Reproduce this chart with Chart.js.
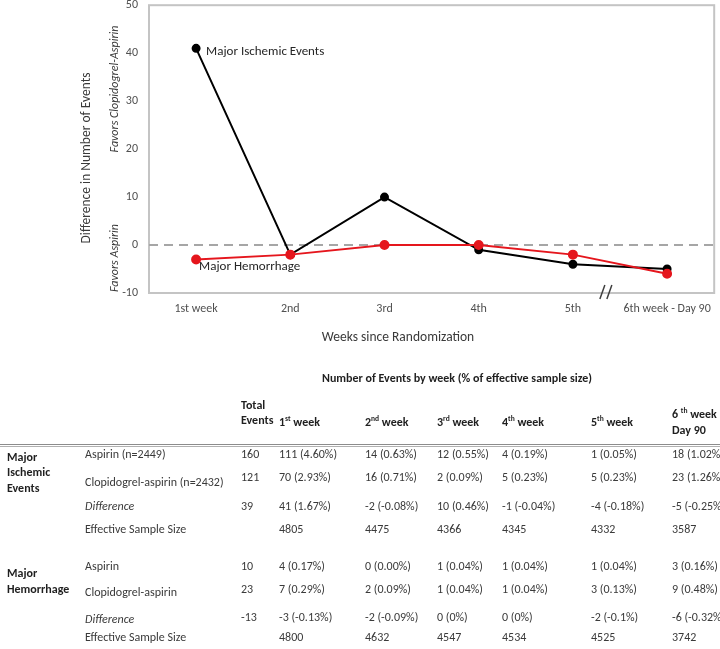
<!DOCTYPE html>
<html>
<head>
<meta charset="utf-8">
<script src="https://cdn.jsdelivr.net/npm/chart.js@4"></script>
<style>
  html,body{margin:0;padding:0;background:#fff;}
  body{width:720px;height:649px;overflow:hidden;position:relative;font-family:Carlito,Lato,"Open Sans",sans-serif;color:#3a3a3a;}
  #chartWrap{position:absolute;left:0;top:-13px;width:720px;height:363px;}
  #tbl{position:absolute;left:0;top:0;width:720px;height:649px;}
  .c{position:absolute;white-space:nowrap;font-size:12px;line-height:14px;}
  .b{font-weight:bold;color:#1f1f1f;}
  .i{font-style:italic;}
  sup{font-size:7.5px;vertical-align:top;line-height:8px;position:relative;top:0px;}
  .rule{position:absolute;left:0;width:720px;height:1px;background:#8c8c8c;}
</style>
</head>
<body>
<div id="chartWrap"><canvas id="c"></canvas></div>
<div id="tbl"></div>
<script>
// ---------------- data ----------------
const weekLabels = ["1st week", "2nd", "3rd", "4th", "5th", "6th week - Day 90"];
const ischemicDiff = [41, -2, 10, -1, -4, -5];
const hemorrhageDiff = [-3, -2, 0, 0, -2, -6];
const yTicks = [-10, 0, 10, 20, 30, 40, 50];

const tableTitle = "Number of Events by week (% of effective sample size)";
const weekNums = ["1", "2", "3", "4", "5", "6"];
const weekSuffix = ["st", "nd", "rd", "th", "th", "th"];
const rowLabels = ["Aspirin (n=2449)", "Clopidogrel-aspirin (n=2432)", "Difference", "Effective Sample Size",
                   "Aspirin", "Clopidogrel-aspirin", "Difference", "Effective Sample Size"];
const groupLabels = [["Major", "Ischemic", "Events"], ["Major", "Hemorrhage"]];
const totalEvents = ["160", "121", "39", "", "10", "23", "-13", ""];
const ischAspirin = ["111 (4.60%)", "14 (0.63%)", "12 (0.55%)", "4 (0.19%)", "1 (0.05%)", "18 (1.02%)"];
const ischClop = ["70 (2.93%)", "16 (0.71%)", "2 (0.09%)", "5 (0.23%)", "5 (0.23%)", "23 (1.26%)"];
const ischDiffText = ["41 (1.67%)", "-2 (-0.08%)", "10 (0.46%)", "-1 (-0.04%)", "-4 (-0.18%)", "-5 (-0.25%)"];
const ischESS = ["4805", "4475", "4366", "4345", "4332", "3587"];
const hemAspirin = ["4 (0.17%)", "0 (0.00%)", "1 (0.04%)", "1 (0.04%)", "1 (0.04%)", "3 (0.16%)"];
const hemClop = ["7 (0.29%)", "2 (0.09%)", "1 (0.04%)", "1 (0.04%)", "3 (0.13%)", "9 (0.48%)"];
const hemDiffText = ["-3 (-0.13%)", "-2 (-0.09%)", "0 (0%)", "0 (0%)", "-2 (-0.1%)", "-6 (-0.32%)"];
const hemESS = ["4800", "4632", "4547", "4534", "4525", "3742"];

// ---------------- chart ----------------
const FONT = "Carlito, Lato, 'Open Sans', sans-serif";
const annot = {
  id: 'annot',
  beforeDatasetsDraw(chart) {
    const {ctx, chartArea: a, scales: {y}} = chart;
    ctx.save();
    ctx.strokeStyle = '#c4c4c4';
    ctx.lineWidth = 2;
    ctx.strokeRect(a.left, a.top, a.right - a.left, a.bottom - a.top);
    const y0 = y.getPixelForValue(0);
    ctx.strokeStyle = '#a6a6a6';
    ctx.lineWidth = 2;
    ctx.setLineDash([9, 6]);
    ctx.beginPath();
    ctx.moveTo(a.left, y0);
    ctx.lineTo(a.right, y0);
    ctx.stroke();
    ctx.restore();
  },
  afterDraw(chart) {
    const {ctx, chartArea: a, scales: {x, y}} = chart;
    const off = 13; // canvas is shifted up by 13px in the page
    ctx.save();
    ctx.fillStyle = '#262626';
    ctx.font = "13px " + FONT;
    ctx.textBaseline = 'middle';
    ctx.textAlign = 'left';
    ctx.fillText("Major Ischemic Events", x.getPixelForValue(0) + 10, y.getPixelForValue(ischemicDiff[0]) + 3);
    ctx.fillText("Major Hemorrhage", x.getPixelForValue(0) + 3, y.getPixelForValue(hemorrhageDiff[0]) + 7);
    // axis break mark
    const bx = x.getPixelForValue(4) + (x.getPixelForValue(5) - x.getPixelForValue(4)) * 0.35;
    ctx.strokeStyle = '#404040';
    ctx.lineWidth = 1.5;
    ctx.beginPath();
    ctx.moveTo(bx - 6, a.bottom + 6); ctx.lineTo(bx - 1, a.bottom - 8);
    ctx.moveTo(bx + 1, a.bottom + 6); ctx.lineTo(bx + 6, a.bottom - 8);
    ctx.stroke();
    // x title
    ctx.fillStyle = '#3a3a3a';
    ctx.font = "13.5px " + FONT;
    ctx.textAlign = 'center';
    ctx.fillText("Weeks since Randomization", 398, 338 + off);
    // y titles
    ctx.translate(87, 158 + off);
    ctx.rotate(-Math.PI / 2);
    ctx.font = "13.5px " + FONT;
    ctx.fillText("Difference in Number of Events", 0, 0);
    ctx.restore();
    [["Favors Clopidogrel-Aspirin", 89], ["Favors Aspirin", 258]].forEach(([txt, cy]) => {
      ctx.save();
      ctx.fillStyle = '#3a3a3a';
      ctx.font = "italic 12px " + FONT;
      ctx.textAlign = 'center';
      ctx.textBaseline = 'middle';
      ctx.translate(115, cy + off);
      ctx.rotate(-Math.PI / 2);
      ctx.fillText(txt, 0, 0);
      ctx.restore();
    });
  }
};

new Chart(document.getElementById('c'), {
  type: 'line',
  data: {
    labels: weekLabels,
    datasets: [
      {label: 'Major Ischemic Events', data: ischemicDiff, borderColor: '#000', backgroundColor: '#000',
       borderWidth: 2, pointRadius: 3.5, pointHoverRadius: 3.5, tension: 0, order: 1},
      {label: 'Major Hemorrhage', data: hemorrhageDiff, borderColor: '#e5161d', backgroundColor: '#e5161d',
       borderWidth: 2, pointRadius: 4, pointHoverRadius: 4, tension: 0, order: 0}
    ]
  },
  options: {
    responsive: true,
    maintainAspectRatio: false,
    animation: false,
    events: [],
    layout: {autoPadding: false, padding: {left: 0, right: 3, top: 4, bottom: 0}},
    plugins: {legend: {display: false}, tooltip: {enabled: false}},
    scales: {
      x: {
        offset: true,
        grid: {display: false, drawTicks: false},
        border: {display: false},
        ticks: {color: '#505050', font: {family: FONT, size: 12}, padding: 9, maxRotation: 0, autoSkip: false},
        afterFit(s) { s.height = 57; }
      },
      y: {
        min: -10, max: 50,
        afterBuildTicks(s) { s.ticks = yTicks.map(v => ({value: v})); },
        grid: {display: false, drawTicks: false},
        border: {display: false},
        ticks: {color: '#505050', font: {family: FONT, size: 12}, padding: 11},
        afterFit(s) { s.width = 149; }
      }
    }
  },
  plugins: [annot]
});

// ---------------- table ----------------
const tbl = document.getElementById('tbl');
function cell(html, x, yc, cls) {
  const d = document.createElement('div');
  d.className = 'c' + (cls ? ' ' + cls : '');
  d.style.left = x + 'px';
  d.style.top = (yc - 7) + 'px';
  d.innerHTML = html;
  tbl.appendChild(d);
  return d;
}
cell(tableTitle, 322, 378, 'b');
const colX = [279, 365, 437, 502, 591, 672];
const totalX = 241;
const labelX = 85;
const groupX = 7;
cell("Total", totalX, 405, 'b');
cell("Events", totalX, 420, 'b');
for (let i = 0; i < 5; i++) {
  cell(weekNums[i] + "<sup>" + weekSuffix[i] + "</sup> week", colX[i], 422, 'b');
}
cell(weekNums[5] + " <sup>" + weekSuffix[5] + "</sup> week", colX[5], 414, 'b');
cell("Day 90", colX[5], 430, 'b');
const r1 = document.createElement('div'); r1.className = 'rule'; r1.style.top = '444px'; tbl.appendChild(r1);
const r2 = document.createElement('div'); r2.className = 'rule'; r2.style.top = '446px'; r2.style.background = '#b0b0b0'; tbl.appendChild(r2);

const rowsY = [454, 477, 506, 527, 566, 589, 617, 636];
const labelY = [454, 482, 506, 529, 566, 592, 619, 637];
const rowVals = [ischAspirin, ischClop, ischDiffText, ischESS, hemAspirin, hemClop, hemDiffText, hemESS];
for (let r = 0; r < 8; r++) {
  cell(rowLabels[r], labelX, labelY[r], rowLabels[r] === "Difference" ? 'i' : '');
  if (totalEvents[r] !== "") cell(totalEvents[r], totalX, rowsY[r]);
  for (let k = 0; k < 6; k++) {
    cell(rowVals[r][k], colX[k], (r === 3 || r === 7) ? labelY[r] : rowsY[r]);
  }
}
const gY = [[457, 472, 488], [573, 589]];
groupLabels.forEach((g, gi) => g.forEach((s, si) => cell(s, groupX, gY[gi][si], 'b')));
</script>
</body>
</html>
